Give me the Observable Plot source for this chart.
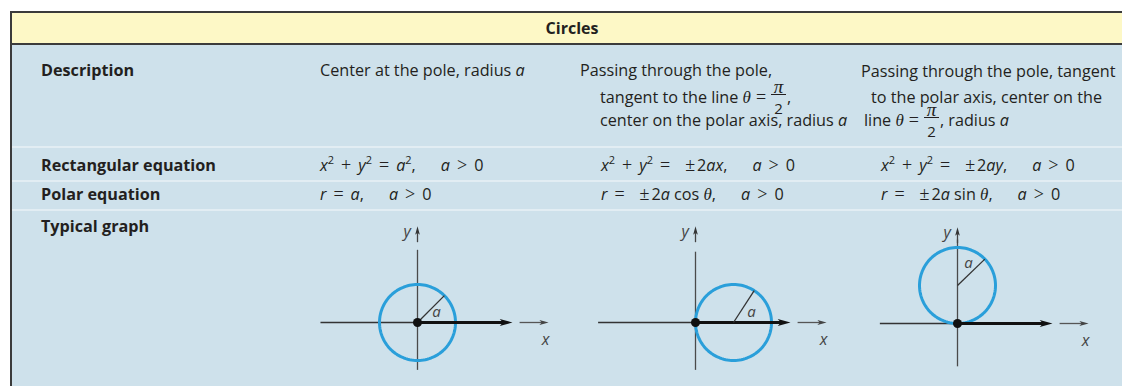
<!DOCTYPE html>
<html><head><meta charset="utf-8">
<script src="https://cdn.jsdelivr.net/npm/d3@7"></script>
<script src="https://cdn.jsdelivr.net/npm/@observablehq/plot@0.6"></script>
<style>
html,body{margin:0;padding:0;background:#fff;}
#root{position:relative;width:1122px;height:386px;overflow:hidden;font-family:"Open Sans",sans-serif;color:#231f20;}
#panel{position:absolute;left:10px;top:11px;width:1120px;height:380px;background:#cee1eb;border-left:2px solid #3b3b3b;border-top:2px solid #3b3b3b;}
#head{position:absolute;left:12px;top:13px;width:1110px;height:30px;background:#fdf8c6;border-bottom:2px solid #3b3b3b;}
#head span{position:absolute;left:560px;top:5px;transform:translateX(-50%);font-weight:bold;font-size:16px;line-height:20px;}
.sep{position:absolute;left:12px;width:1110px;height:2px;background:#e2edf3;}
.t{position:absolute;white-space:nowrap;font-size:16.2px;line-height:20px;}
.b{font-weight:bold;}
.op{font-family:"Liberation Serif",serif;font-size:18px;margin:0 7px;}
.pm{font-family:"Liberation Serif",serif;font-size:18px;margin:0 2px 0 8px;}
.sp{display:inline-block;width:25px;}
.th{font-family:"Liberation Serif",serif;font-style:italic;font-size:17px;}
i{font-style:italic;}
sup{font-size:11px;vertical-align:7px;line-height:0;}
.fr{display:inline-block;position:relative;width:15px;height:0;vertical-align:baseline;margin:0 1px 0 0;}
.fr .bar{position:absolute;left:0;right:0;bottom:8px;border-top:1px solid #231f20;}
.fr .n{position:absolute;left:0;width:15px;text-align:center;bottom:9px;line-height:15px;font-family:"Liberation Serif",serif;font-style:italic;font-size:19px;}
.fr .d{position:absolute;left:0;width:15px;text-align:center;top:-3px;line-height:16px;font-size:15px;}
.fr + .op, .th + .op{}
.g{position:absolute;}
</style></head>
<body><div id="root">
<div id="panel"></div>
<div id="head"><span id="title"></span></div>
</div>
<script>
// ---- text content ----
const title = "Circles";
const rowLabels = ["Description", "Rectangular equation", "Polar equation", "Typical graph"];
const FRAC = "<span class='fr'><span class='n'>π</span><span class='bar'></span><span class='d'>2</span></span>";
const SP = "<span class='sp'></span>";
const descriptions = [
  ["Center at the pole, radius <i>a</i>"],
  ["Passing through the pole,",
   "tangent to the line <span class='th'>θ</span><span class='op' style='margin:0 5px'>=</span>" + FRAC + ",",
   "center on the polar axis, radius <i>a</i>"],
  ["Passing through the pole, tangent",
   "to the polar axis, center on the",
   "line <span class='th'>θ</span><span class='op' style='margin:0 5px'>=</span>" + FRAC + ", radius <i>a</i>"]
];
const descIndent = [[0], [0, 20, 20], [0, 10, 3]];
const rectEquations = [
  "<i>x</i><sup>2</sup><span class='op'>+</span><i>y</i><sup>2</sup><span class='op'>=</span><i>a</i><sup>2</sup>," + SP + "<i>a</i><span class='op'>&gt;</span>0",
  "<i>x</i><sup>2</sup><span class='op'>+</span><i>y</i><sup>2</sup><span class='op'>=</span><span class='pm'>±</span>2<i>ax</i>," + SP + "<i>a</i><span class='op'>&gt;</span>0",
  "<i>x</i><sup>2</sup><span class='op'>+</span><i>y</i><sup>2</sup><span class='op'>=</span><span class='pm'>±</span>2<i>ay</i>," + SP + "<i>a</i><span class='op'>&gt;</span>0"
];
const polarEquations = [
  "<i>r</i><span class='op'>=</span><i>a</i>," + SP + "<i>a</i><span class='op'>&gt;</span>0",
  "<i>r</i><span class='op'>=</span><span class='pm'>±</span>2<i>a</i> cos <span class='th'>θ</span>," + SP + "<i>a</i><span class='op'>&gt;</span>0",
  "<i>r</i><span class='op'>=</span><span class='pm'>±</span>2<i>a</i> sin <span class='th'>θ</span>," + SP + "<i>a</i><span class='op'>&gt;</span>0"
];

// ---- graph data (in units of a) ----
const graphNames = ["pole", "cos", "sin"];
const centerX = [0, 1, 0];
const centerY = [0, 0, 1];
const radiusA = [1, 1, 1];
const radiusAngle = [45, 57, 44];
const radiusLabelDX = [0.5, 0.47, 0.29];
const radiusLabelDY = [0.27, 0.27, 0.6];
const axisLeft = [-2.54, -2.55, -2.03];
const axisBottom = [-1.26, -1.26, -1.14];
const axisTop = [1.9, 1.85, 2.2];
const polarAxisEnd = 2.5;

// ---- layout ----
const root = document.getElementById("root");
document.getElementById("title").textContent = title;
function addDiv(cls, html, left, top) {
  const d = document.createElement("div");
  d.className = cls; d.innerHTML = html;
  d.style.left = left + "px"; d.style.top = top + "px";
  root.appendChild(d); return d;
}
[146, 180, 209].forEach(y => addDiv("sep", "", 12, y));
const rowTops = [60, 155, 184, 216];
rowLabels.forEach((l, i) => addDiv("t b", l, 41, rowTops[i]));
const colX = [320, 580, 861];
const eqX = [320, 601, 881];
const lineTops = [60, 87, 110];
descriptions.forEach((lines, c) => lines.forEach((ln, k) => addDiv("t", ln, colX[c] + descIndent[c][k], lineTops[k] + (c === 2 && k === 0 ? 1 : 0))));
rectEquations.forEach((e, c) => addDiv("t", e, eqX[c], 155));
polarEquations.forEach((e, c) => addDiv("t", e, eqX[c], 184));

// ---- graphs ----
const U = 38, W = 250, H = 160, OX = 110, OY = 100;
const origins = [[416.7, 322.3], [695, 322.3], [957.3, 323]];
const arrowHead = {draw(ctx, size) {
  const s = Math.sqrt(size);
  ctx.moveTo(0, 0); ctx.lineTo(-2 * s, -0.55 * s); ctx.lineTo(-1.5 * s, 0); ctx.lineTo(-2 * s, 0.55 * s); ctx.closePath();
}};
graphNames.forEach((name, i) => {
  const cx = centerX[i], cy = centerY[i], a = radiusA[i];
  const circle = d3.range(0, 361, 3).map(t => ({x: cx + a * Math.cos(t * Math.PI / 180), y: cy + a * Math.sin(t * Math.PI / 180)}));
  const ang = radiusAngle[i] * Math.PI / 180;
  const rEnd = {x1: cx, y1: cy, x2: cx + a * Math.cos(ang), y2: cy + a * Math.sin(ang)};
  const labelPos = {x: cx + radiusLabelDX[i] * a, y: cy + radiusLabelDY[i] * a};
  const chart = Plot.plot({
    width: W, height: H, margin: 0,
    x: {domain: [-OX / U, (W - OX) / U], axis: null},
    y: {domain: [-(H - OY) / U, OY / U], axis: null},
    style: {background: "transparent", overflow: "visible"},
    marks: [
      Plot.ruleX([0], {y1: axisBottom[i], y2: axisTop[i], stroke: "#4a4a4a", strokeWidth: 1.3}),
      Plot.ruleY([0], {x1: axisLeft[i], x2: 0, stroke: "#333", strokeWidth: 1.3}),
      Plot.line(circle, {x: "x", y: "y", stroke: "#2a9fda", strokeWidth: 3}),
      Plot.ruleY([0], {x1: 0, x2: polarAxisEnd - 0.2, stroke: "#111", strokeWidth: 3}),
      Plot.dot([{x: polarAxisEnd, y: 0}], {x: "x", y: "y", symbol: arrowHead, r: 3.6, fill: "#111", stroke: null}),
      Plot.ruleY([0], {x1: polarAxisEnd + 0.2, x2: polarAxisEnd + 0.85, stroke: "#555", strokeWidth: 1.3}),
      Plot.dot([{x: polarAxisEnd + 0.95, y: 0}], {x: "x", y: "y", symbol: arrowHead, r: 2.6, fill: "#444", stroke: null}),
      Plot.ruleX([0], {y1: 2.1, y2: 2.35, stroke: "#444", strokeWidth: 1.3}),
      Plot.dot([{x: 0, y: 2.53}], {x: "x", y: "y", symbol: arrowHead, r: 2.4, fill: "#333", stroke: null, rotate: -90}),
      Plot.link([rEnd], {x1: "x1", y1: "y1", x2: "x2", y2: "y2", stroke: "#333", strokeWidth: 1.3}),
      Plot.dot([{x: 0, y: 0}], {x: "x", y: "y", r: 4.5, fill: "#111", stroke: null}),
      Plot.text([{x: polarAxisEnd + 0.87, y: -0.45, t: "x"}], {x: "x", y: "y", text: "t", fontSize: 16, fontStyle: "italic", fill: "#444", fontFamily: "Open Sans"}),
      Plot.text([{x: -0.27, y: 2.38, t: "y"}], {x: "x", y: "y", text: "t", fontSize: 16, fontStyle: "italic", fill: "#444", fontFamily: "Open Sans"}),
      Plot.text([{...labelPos, t: "a"}], {x: "x", y: "y", text: "t", fontSize: 15, fontStyle: "italic", fill: "#444", fontFamily: "Open Sans"})
    ]
  });
  chart.classList.add("g");
  chart.style.left = (origins[i][0] - OX) + "px";
  chart.style.top = (origins[i][1] - OY) + "px";
  root.appendChild(chart);
});
</script>
</body></html>
